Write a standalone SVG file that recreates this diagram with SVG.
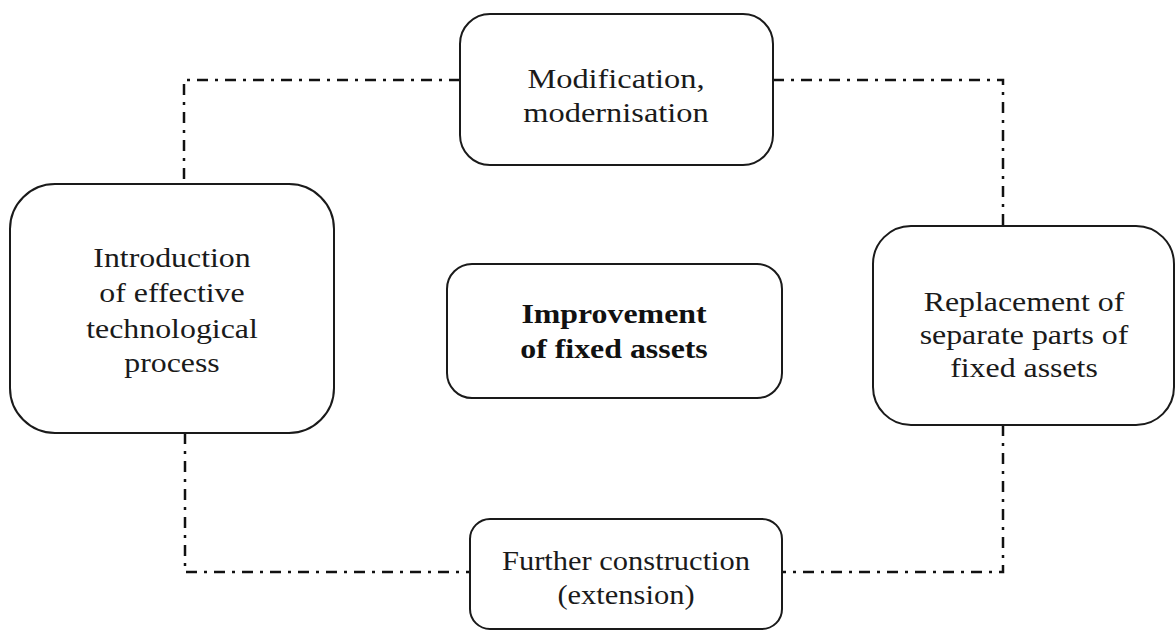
<svg xmlns="http://www.w3.org/2000/svg" width="1176" height="631" viewBox="0 0 1176 631">
<style>
.box{fill:#fff;stroke:#1a1a1a;stroke-width:2}
.lbl{font-family:"Liberation Serif","Times New Roman",serif;font-size:27px;fill:#1a1a1a;text-anchor:middle}
.bold{font-weight:bold;fill:#111}
.conn{fill:none;stroke:#111;stroke-width:2.5;stroke-dasharray:11 7 3 7}
</style>
<rect width="1176" height="631" fill="#fff"/>
<g id="connectors">
<polyline class="conn" points="460,80 184,80 184,184"/>
<polyline class="conn" points="773,80 1003,80 1003,226"/>
<polyline class="conn" points="185,433 185,572 470,572"/>
<polyline class="conn" points="1003,425 1003,572 782,572"/>
</g>
<g id="node-modification">
<rect class="box" x="460" y="14" width="313" height="151" rx="30"/>
<g transform="translate(616,0) scale(1.2,1)">
<text class="lbl" x="0" y="88">Modification,</text>
<text class="lbl" x="0" y="122">modernisation</text>
</g>
</g>
<g id="node-introduction">
<rect class="box" x="10" y="184" width="324" height="249" rx="45"/>
<g transform="translate(172,0) scale(1.18,1)">
<text class="lbl" x="0" y="267">Introduction</text>
<text class="lbl" x="0" y="302">of effective</text>
<text class="lbl" x="0" y="338">technological</text>
<text class="lbl" x="0" y="372">process</text>
</g>
</g>
<g id="node-improvement">
<rect class="box" x="447" y="264" width="335" height="134" rx="25"/>
<g transform="translate(614,0) scale(1.18,1)">
<text class="lbl bold" x="0" y="323">Improvement</text>
<text class="lbl bold" x="0" y="358">of fixed assets</text>
</g>
</g>
<g id="node-replacement">
<rect class="box" x="873" y="226" width="301" height="199" rx="38"/>
<g transform="translate(1024,0) scale(1.18,1)">
<text class="lbl" x="0" y="311">Replacement of</text>
<text class="lbl" x="0" y="344">separate parts of</text>
<text class="lbl" x="0" y="377">fixed assets</text>
</g>
</g>
<g id="node-further">
<rect class="box" x="470" y="519" width="312" height="110" rx="20"/>
<g transform="translate(626,0) scale(1.13,1)">
<text class="lbl" x="0" y="570">Further construction</text>
<text class="lbl" x="0" y="604">(extension)</text>
</g>
</g>
</svg>
